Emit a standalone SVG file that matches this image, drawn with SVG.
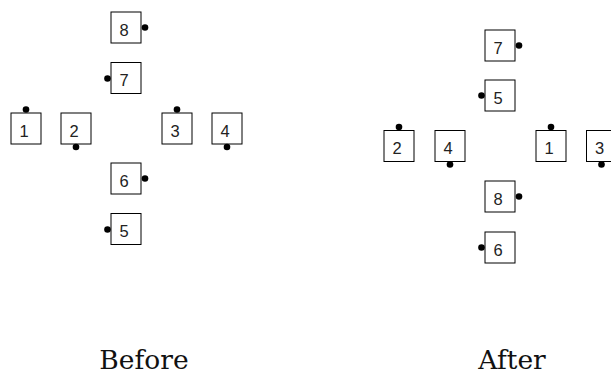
<svg xmlns="http://www.w3.org/2000/svg" width="611" height="374" viewBox="0 0 611 374">
<style>
.box{fill:#fff;stroke:#000;stroke-width:1}
.num{font-family:"Liberation Sans",Arial,sans-serif;font-size:16.5px;fill:#222;text-anchor:middle}
.dot{fill:#000}
.cap{font-family:"DejaVu Serif",serif;font-size:26.5px;fill:#111;text-anchor:middle}
</style>
<rect width="611" height="374" fill="#fff"/>
<g id="connectors"/>
<g id="before">
<g id="b8"><rect class="box" x="111" y="12" width="30" height="31"/><text class="num" x="124" y="35.5">8</text><circle class="dot" cx="145" cy="27.5" r="3.3"/></g>
<g id="b7"><rect class="box" x="111" y="62.5" width="30" height="31"/><text class="num" x="124" y="86">7</text><circle class="dot" cx="107.5" cy="78.5" r="3.3"/></g>
<g id="b1"><rect class="box" x="11" y="113" width="30" height="31"/><text class="num" x="24" y="136.5">1</text><circle class="dot" cx="26" cy="109.5" r="3.3"/></g>
<g id="b2"><rect class="box" x="61" y="113" width="30" height="31"/><text class="num" x="74" y="136.5">2</text><circle class="dot" cx="76" cy="147" r="3.3"/></g>
<g id="b3"><rect class="box" x="162" y="113" width="30" height="31"/><text class="num" x="175" y="136.5">3</text><circle class="dot" cx="177" cy="109.5" r="3.3"/></g>
<g id="b4"><rect class="box" x="212" y="113" width="30" height="31"/><text class="num" x="225" y="136.5">4</text><circle class="dot" cx="227" cy="147" r="3.3"/></g>
<g id="b6"><rect class="box" x="111" y="163" width="30" height="31"/><text class="num" x="124" y="186.5">6</text><circle class="dot" cx="145" cy="178.5" r="3.3"/></g>
<g id="b5"><rect class="box" x="111" y="213.5" width="30" height="31"/><text class="num" x="124" y="237">5</text><circle class="dot" cx="107.5" cy="229.5" r="3.3"/></g>
</g>
<g id="after">
<g id="a7"><rect class="box" x="485" y="30" width="30" height="31"/><text class="num" x="498" y="53.5">7</text><circle class="dot" cx="519" cy="45.5" r="3.3"/></g>
<g id="a5"><rect class="box" x="485" y="80" width="30" height="31"/><text class="num" x="498" y="103.5">5</text><circle class="dot" cx="481.5" cy="95.5" r="3.3"/></g>
<g id="a2"><rect class="box" x="384" y="130.5" width="30" height="31"/><text class="num" x="397" y="154">2</text><circle class="dot" cx="399" cy="127" r="3.3"/></g>
<g id="a4"><rect class="box" x="435" y="130.5" width="30" height="31"/><text class="num" x="448" y="154">4</text><circle class="dot" cx="450" cy="164.5" r="3.3"/></g>
<g id="a1"><rect class="box" x="536" y="130.5" width="30" height="31"/><text class="num" x="549" y="154">1</text><circle class="dot" cx="551" cy="127" r="3.3"/></g>
<g id="a3"><rect class="box" x="586.5" y="130.5" width="30" height="31"/><text class="num" x="599.5" y="154">3</text><circle class="dot" cx="601.5" cy="164.5" r="3.3"/></g>
<g id="a8"><rect class="box" x="485" y="181" width="30" height="31"/><text class="num" x="498" y="204.5">8</text><circle class="dot" cx="519" cy="196.5" r="3.3"/></g>
<g id="a6"><rect class="box" x="485" y="232" width="30" height="31"/><text class="num" x="498" y="255.5">6</text><circle class="dot" cx="481.5" cy="247.5" r="3.3"/></g>
</g>
<text class="cap" x="144" y="369">Before</text>
<text class="cap" x="512" y="369">After</text>
</svg>
